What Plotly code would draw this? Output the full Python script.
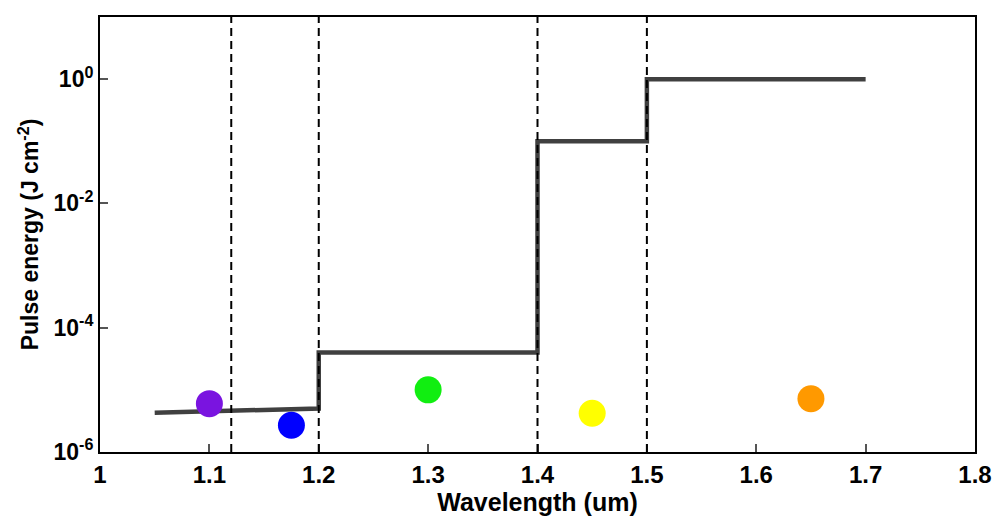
import plotly.graph_objects as go

# step line (Wavelength um, pulse energy J/cm^2)
line_x = [1.05, 1.2, 1.2, 1.4, 1.4, 1.5, 1.5, 1.7]
line_y = [4.3e-6, 5.0e-6, 4.0e-5, 4.0e-5, 0.1, 0.1, 1.0, 1.0]

# coloured points
pt_x = [1.1, 1.175, 1.3, 1.45, 1.65]
pt_y = [6.0e-6, 2.7e-6, 1.0e-5, 4.2e-6, 7.2e-6]
pt_colors = ["#7A14E0", "#0000FF", "#11EE11", "#FFFF00", "#FF9900"]

# dashed vertical lines
vlines = [1.12, 1.2, 1.4, 1.5]

x_ticks = [1, 1.1, 1.2, 1.3, 1.4, 1.5, 1.6, 1.7, 1.8]
x_ticktext = ["1", "1.1", "1.2", "1.3", "1.4", "1.5", "1.6", "1.7", "1.8"]
y_ticks = [1e-6, 1e-4, 1e-2, 1e0]
y_ticktext = ["10<sup>-6</sup>", "10<sup>-4</sup>", "10<sup>-2</sup>", "10<sup>0</sup>"]

fig = go.Figure()
for v in vlines:
    fig.add_shape(type="line", x0=v, x1=v, xref="x", y0=0, y1=1, yref="paper",
                  line=dict(color="black", width=2, dash="8px,5px"), layer="above")

fig.add_trace(go.Scatter(x=line_x, y=line_y, mode="lines",
                         line=dict(color="#404040", width=4.5), showlegend=False))
fig.add_trace(go.Scatter(x=pt_x, y=pt_y, mode="markers",
                         marker=dict(color=pt_colors, size=27, line=dict(width=0)),
                         showlegend=False))

font_family = "Liberation Sans, Arial, sans-serif"
xtick_font = dict(size=24, family=font_family, color="black", weight="bold")
ytick_font = dict(size=23, family=font_family, color="black", weight="bold")
xtitle_font = dict(size=25, family=font_family, color="black", weight="bold")
ytitle_font = dict(size=23, family=font_family, color="black", weight="bold")
fig.update_layout(
    width=995, height=519,
    margin=dict(l=100, r=20, t=17, b=67, autoexpand=False),
    paper_bgcolor="white", plot_bgcolor="white",
    font=dict(family=font_family, color="black", size=20),
    xaxis=dict(range=[1, 1.8], tickvals=x_ticks, ticktext=x_ticktext,
               ticks="inside", ticklen=8, tickwidth=1.5, tickcolor="#555",
               showline=True, linecolor="black", linewidth=2, mirror=True,
               showgrid=False, zeroline=False, automargin=False,
               tickfont=xtick_font,
               title=dict(text="Wavelength (um)", font=xtitle_font, standoff=2)),
    yaxis=dict(type="log", range=[-6, 1], tickvals=y_ticks, ticktext=y_ticktext,
               ticks="inside", ticklen=8, tickwidth=1.5, tickcolor="#555",
               showline=True, linecolor="black", linewidth=2, mirror=True,
               showgrid=False, zeroline=False, automargin=False,
               tickfont=ytick_font,
               title=dict(text="Pulse energy (J cm<sup>-2</sup>)", font=ytitle_font, standoff=8)),
)
fig.write_html("out.html")
